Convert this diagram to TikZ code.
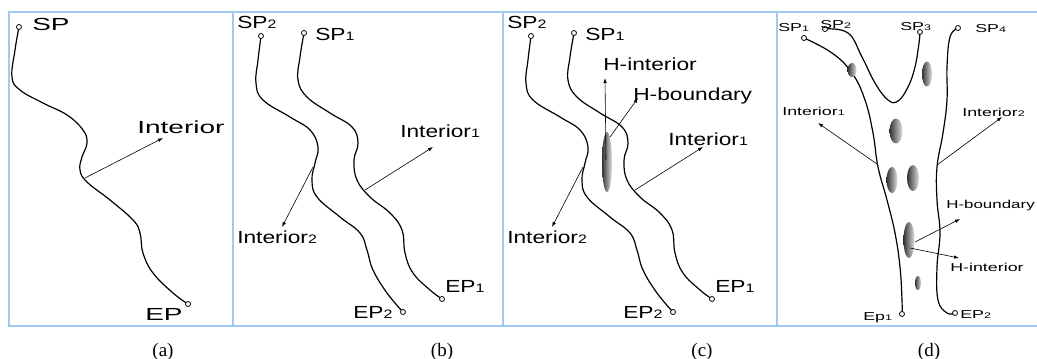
\documentclass[tikz,border=0pt]{standalone}
\usepackage{fontspec}
\setsansfont{Liberation Sans}
\newfontfamily\capfont{Liberation Serif}
\usepackage{tikz}
\usetikzlibrary{arrows.meta, positioning}
\definecolor{framecol}{RGB}{158,202,245}
\newcommand{\ix}[1]{\scalebox{0.7}{#1}}

\begin{document}
\begin{tikzpicture}[x=1pt, y=-1pt]
	\tikzstyle{curve}=[line width=1.2pt, line cap=round]
	\tikzstyle{endp}=[circle, draw=black, line width=0.8pt, fill=white, inner sep=0pt, minimum size=5pt]
	\tikzstyle{laba}=[font=\sffamily\fontsize{17.5}{20}\selectfont, xscale=1.6, inner sep=0pt, anchor=base west]
	\tikzstyle{labb}=[font=\sffamily\fontsize{17.5}{20}\selectfont, xscale=1.3, inner sep=0pt, anchor=base west]
	\tikzstyle{labd}=[font=\sffamily\fontsize{11.5}{13}\selectfont, xscale=1.55, inner sep=0pt, anchor=base west]
	\tikzstyle{pointer}=[line width=0.6pt, -{Latex[length=5pt,width=3.5pt]}]
	\tikzstyle{hole}=[left color=black!80, right color=black!12]
	\tikzstyle{caplab}=[font=\capfont\fontsize{19}{20}\selectfont]
	\useasboundingbox (0,0) rectangle (1037,359);
	\draw[framecol, line width=1.3pt] (9,12) rectangle (1045,326);
	\foreach \x in {233,503,777} \draw[framecol, line width=1.3pt] (\x,12) -- (\x,326);

	\draw[curve] plot[smooth, tension=0.7] coordinates {(19,27) (15,50) (12,77) (20,90) (43,103) (67,115) (83,130) (87,143) (82,157) (80,170) (87,182) (110,200) (133,220) (140,233) (143,253) (153,273) (173,293) (188,304)};
	\node (sa) at (19,27) [endp]{};
	\node (ea) at (188,304) [endp]{};
	\node (spa) at (32,30) [laba]{SP};
	\node (epa) at (145,320) [laba]{EP};
	\node (ina) at (137,133) [laba]{Interior};
	\coordinate (ia0) at (85,178);
	\coordinate (ia1) at (163,138);
	\draw[pointer] (ia0) -- (ia1);

	\foreach \dx/\p in {0/b, 270/c}{
		\begin{scope}[xshift=\dx pt]
			\draw[curve] plot[smooth, tension=0.7] coordinates {(261,36) (258,60) (256,83) (263,100) (290,117) (310,130) (318,147) (315,163) (312,180) (317,197) (340,217) (360,233) (367,250) (373,270) (387,293) (403,312)};
			\draw[curve] plot[smooth, tension=0.7] coordinates {(304,33) (300,57) (298,80) (307,97) (330,113) (352,127) (358,143) (354,160) (357,180) (370,197) (390,213) (402,230) (405,253) (413,273) (430,290) (442,299)};
			\node (s2\p) at (261,36) [endp]{};
			\node (s1\p) at (304,33) [endp]{};
			\node (e2\p) at (403,312) [endp]{};
			\node (e1\p) at (442,299) [endp]{};
			\node (sp2\p) at (237,28) [labb]{SP\ix{2}};
			\node (sp1\p) at (315,40) [labb]{SP\ix{1}};
			\node (ep1\p) at (445,292) [labb]{EP\ix{1}};
			\node (ep2\p) at (353,318) [labb]{EP\ix{2}};
			\node (in2\p) at (237,243) [labb]{Interior\ix{2}};
			\coordinate (i2\p0) at (313,167);
			\coordinate (i2\p1) at (282,227);
			\draw[pointer] (i2\p0) -- (i2\p1);
			\coordinate (i1\p0) at (365,190);
			\coordinate (i1\p1) at (433,147);
			\draw[pointer] (i1\p0) -- (i1\p1);
		\end{scope}
	}
	\node (in1b) at (400,137) [labb]{Interior\ix{1}};
	\node (in1c) at (668,145) [labb]{Interior\ix{1}};
	\shade[hole] (607,162) ellipse (5 and 30);
	\coordinate (hc) at (606,160);
	\coordinate (hc1) at (605,78);
	\draw[pointer] (hc) -- (hc1);
	\coordinate (hb) at (610,137);
	\coordinate (hb1) at (638,98);
	\draw[pointer] (hb) -- (hb1);
	\node (hic) at (603,70) [labb]{H-interior};
	\node (hbc) at (633,100) [labb]{H-boundary};

	\draw[curve] plot[smooth, tension=0.7] coordinates {(804,38) (832,53) (852,73) (865,100) (873,133) (878,167) (887,200) (895,233) (900,267) (902,300) (902,314)};
	\draw[curve] plot[smooth, tension=0.7] coordinates {(825,29) (848,33) (862,57) (875,83) (888,100) (898,101) (908,87) (915,67) (919,43) (920,32)};
	\draw[curve] plot[smooth, tension=0.7] coordinates {(958,28) (950,37) (947,67) (947,100) (943,133) (937,167) (937,200) (940,233) (937,267) (938,300) (947,313) (955,313)};
	\shade[hole] (852,70) ellipse (4.5 and 7);
	\shade[hole] (927,74) ellipse (5 and 12.5);
	\shade[hole] (896,131) ellipse (6.5 and 12.5);
	\shade[hole] (892,180) ellipse (5.5 and 13);
	\shade[hole] (913,178) ellipse (6 and 13);
	\shade[hole] (909,240) ellipse (5.5 and 18);
	\shade[hole] (918,283) ellipse (3 and 7);
	\node (s1d) at (804,38) [endp]{};
	\node (s2d) at (825,29) [endp]{};
	\node (s3d) at (920,32) [endp]{};
	\node (s4d) at (958,28) [endp]{};
	\node (e1d) at (902,314) [endp]{};
	\node (e2d) at (955,313) [endp]{};
	\node (sp1d) at (778,31) [labd]{SP\ix{1}};
	\node (sp2d) at (820,28) [labd]{SP\ix{2}};
	\node (sp3d) at (900,30) [labd]{SP\ix{3}};
	\node (sp4d) at (975,32) [labd]{SP\ix{4}};
	\node (ep1d) at (863,320) [labd]{Ep\ix{1}};
	\node (ep2d) at (960,318) [labd]{EP\ix{2}};
	\node (in1d) at (782,115) [labd]{Interior\ix{1}};
	\node (in2d) at (962,116) [labd]{Interior\ix{2}};
	\node (hbd) at (946,208) [labd, xscale=0.95]{H-boundary};
	\node (hid) at (950,271) [labd]{H-interior};
	\coordinate (id10) at (877,164);
	\coordinate (id11) at (818,123);
	\draw[pointer] (id10) -- (id11);
	\coordinate (id20) at (937,165);
	\coordinate (id21) at (1002,117);
	\draw[pointer] (id20) -- (id21);
	\coordinate (hd) at (915,242);
	\coordinate (hd1) at (960,219);
	\draw[pointer] (hd) -- (hd1);
	\coordinate (hd2) at (910,248);
	\coordinate (hd3) at (959,258);
	\draw[pointer] (hd2) -- (hd3);

	\node (capa) at (163,352) [caplab]{(a)};
	\node (capb) at (442,352) [caplab]{(b)};
	\node (capc) at (702,352) [caplab]{(c)};
	\node (capd) at (929,352) [caplab]{(d)};
\end{tikzpicture}
\end{document}
